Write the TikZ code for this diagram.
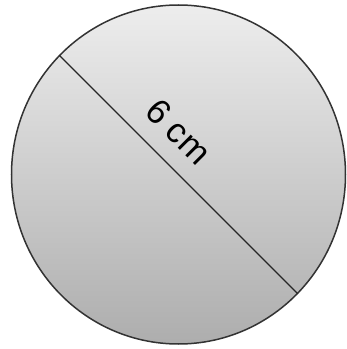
\documentclass[tikz,border=0pt]{standalone}
\usepackage{fontspec}
\setmainfont{Liberation Sans}
\usetikzlibrary{shapes.geometric}

\begin{document}
\begin{tikzpicture}[
    x=1pt, y=1pt,
    disc/.style={draw=black!80, line width=1.5pt, ellipse, inner sep=0pt, minimum width=334pt, minimum height=339pt, top color=black!7, bottom color=black!32},
    diam/.style={draw=black!85, line width=1.2pt},
    lbl/.style={font=\fontsize{35}{40}\selectfont, sloped, above=14pt}
]
\useasboundingbox (0,0) rectangle (347,349);
\node[disc] (D) at (178.5,174.5) {};

\draw[diam] (D.135) -- node[lbl, pos=0.41] {6 cm} (D.-45);
\end{tikzpicture}
\end{document}
